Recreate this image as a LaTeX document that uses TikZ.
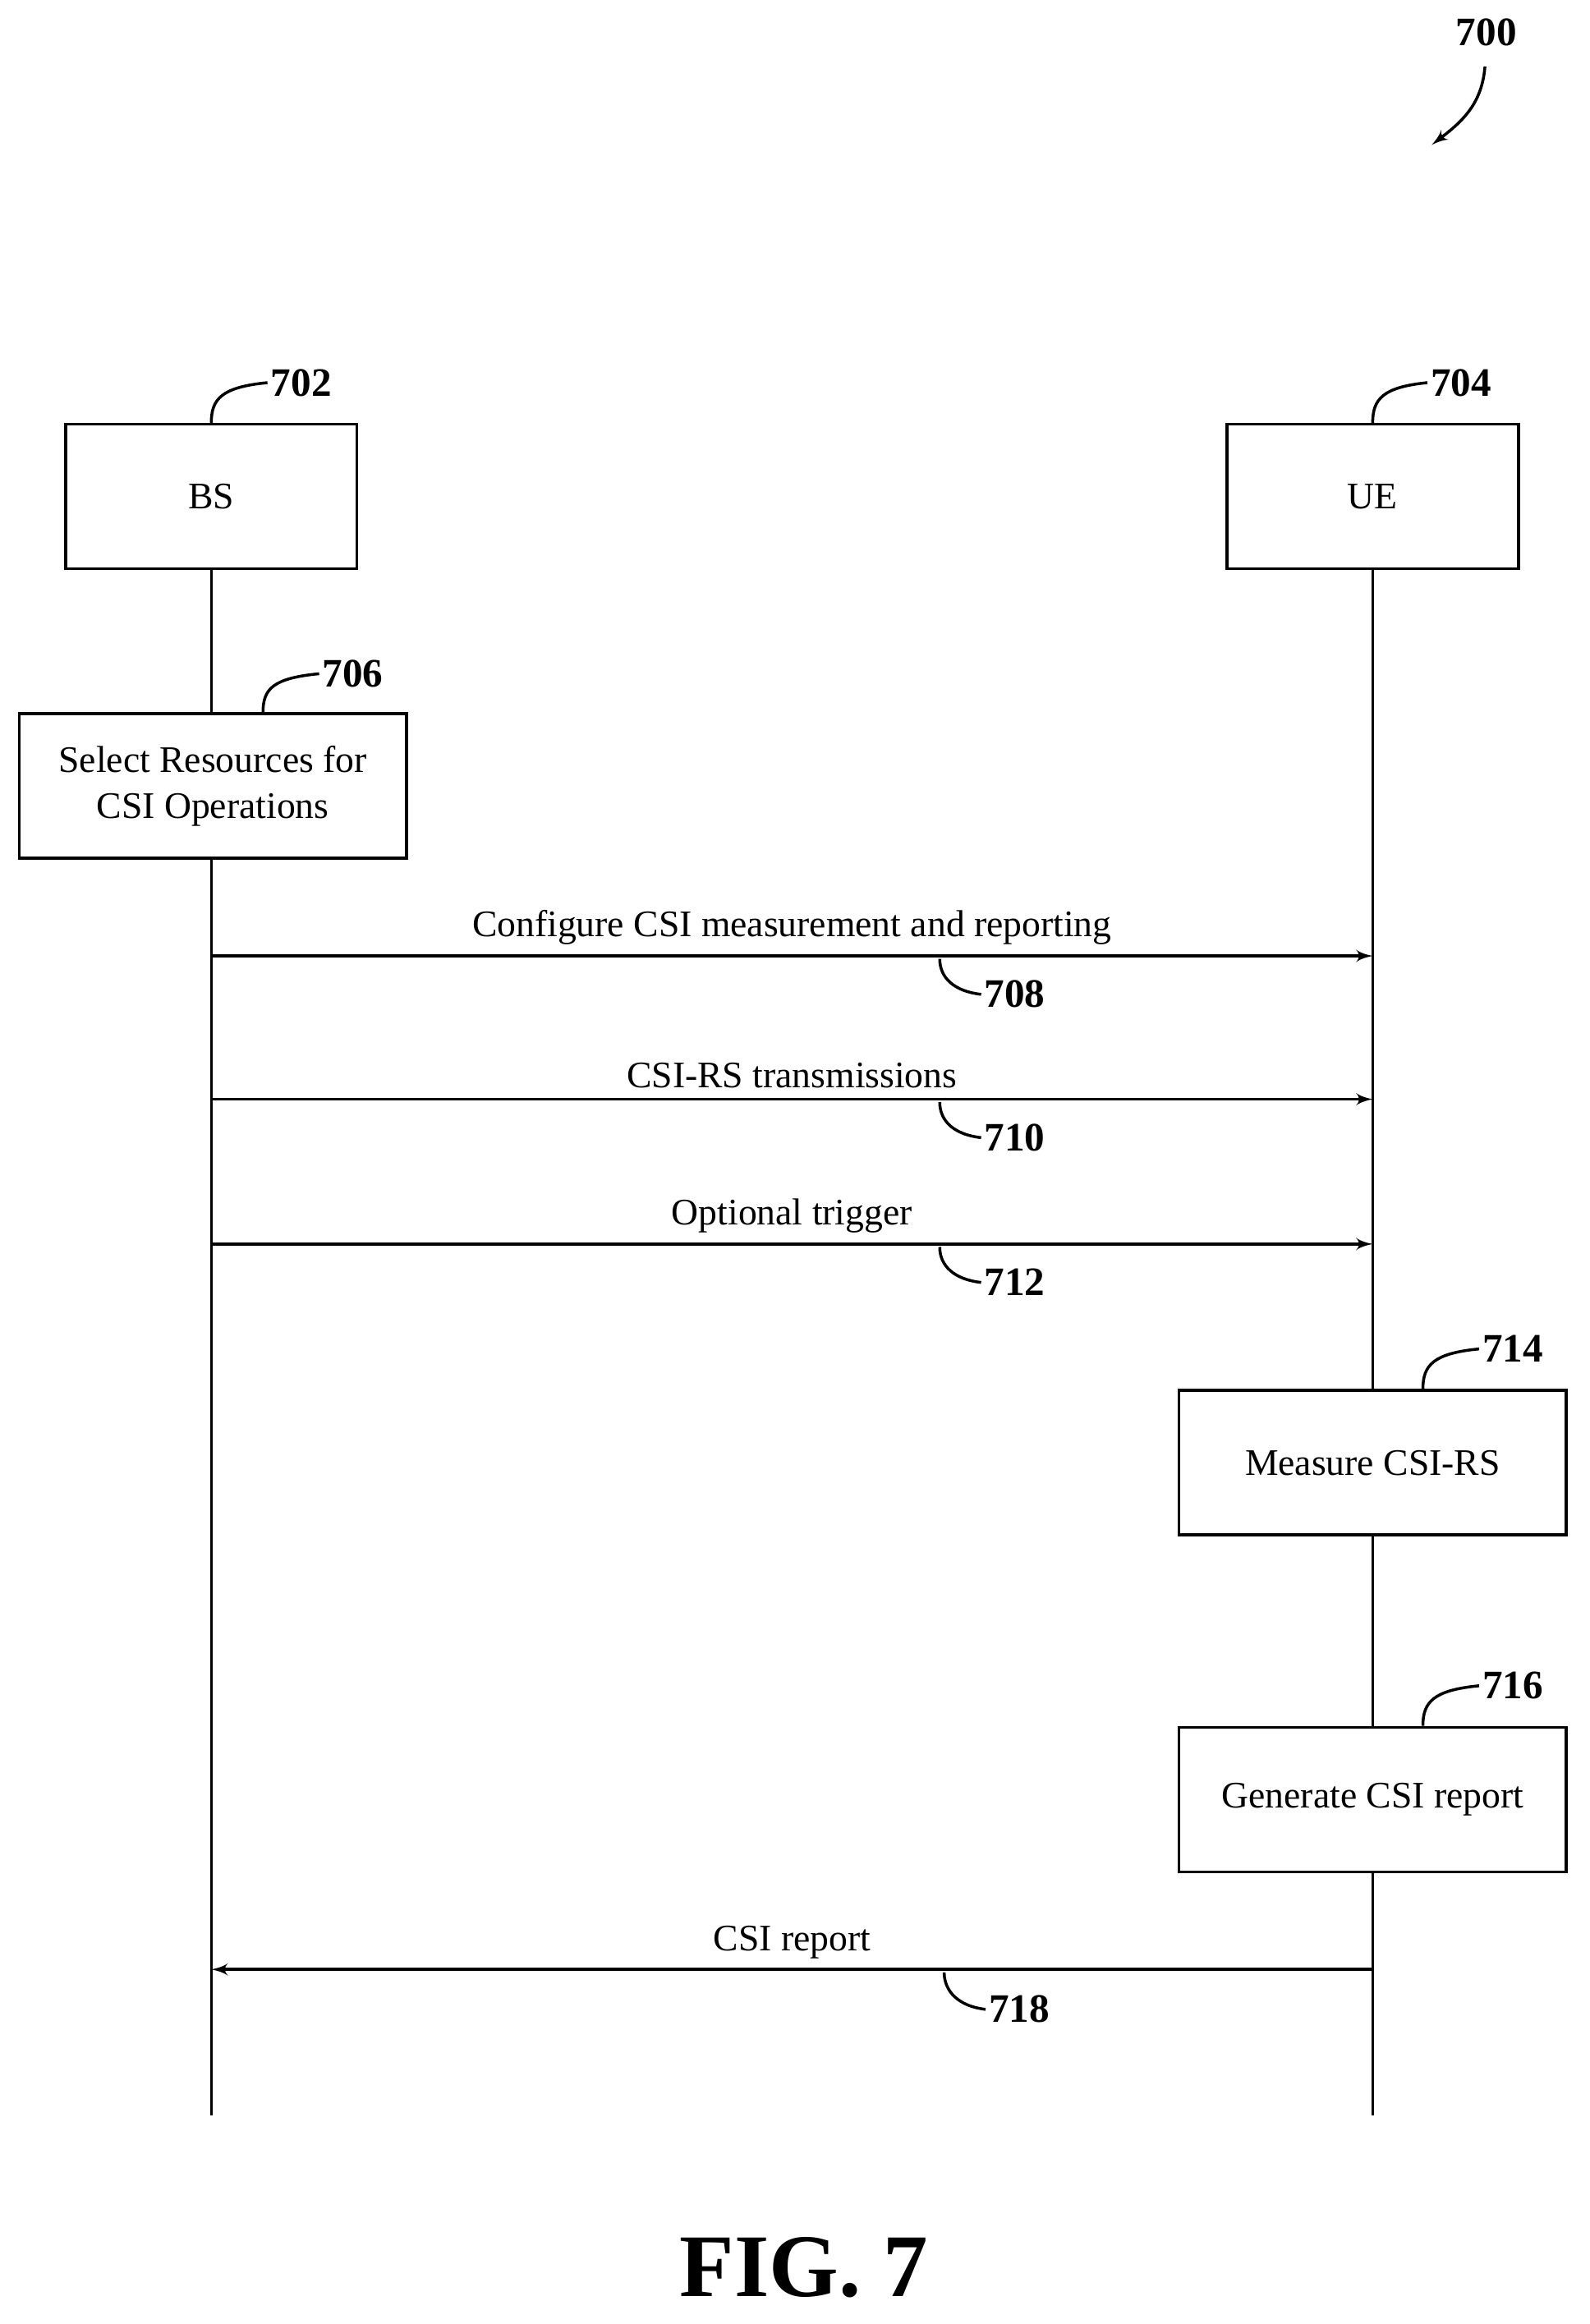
\documentclass[tikz,border=0pt]{standalone}
\usepackage{fontspec}
\setmainfont{Liberation Serif}
\usetikzlibrary{positioning}
\usetikzlibrary{shapes,arrows}
\tikzstyle{block} = [rectangle, draw, line width=1pt, minimum width=3.55cm,
                minimum height=1.76cm, align=center, font=\fontsize{13}{16}\selectfont]
\tikzstyle{line} = [draw, line width=1pt, -latex']
\tikzstyle{msg} = [font=\fontsize{13}{16}\selectfont, above]
\tikzstyle{num} = [font=\bfseries\fontsize{14}{16}\selectfont, right, inner sep=1pt]
\tikzstyle{curl} = [draw, line width=1pt]
\begin{document}
\begin{tikzpicture}[x=0.018cm, y=-0.018cm]
        \useasboundingbox (0,0) rectangle (1076,1573);
        \node[block](bs) at (143,336){BS};
        \node[block](ue) at (929,336){UE};
        \coordinate (bsend) at (143,1432);
        \coordinate (ueend) at (929,1432);
        \draw[line width=1pt] (bs) -- (bsend);
        \draw[line width=1pt] (ue) -- (ueend);
        \node[block, fill=white, minimum width=4.72cm](select) at (144,532){Select Resources for\\CSI Operations};
        \node[block, fill=white, minimum width=4.72cm](measure) at (929,990){Measure CSI-RS};
        \node[block, fill=white, minimum width=4.72cm](generate) at (929,1218){Generate CSI report};
        % messages
        \coordinate (bs1) at (143,647); \coordinate (ue1) at (929,647);
        \coordinate (bs2) at (143,744); \coordinate (ue2) at (929,744);
        \coordinate (bs3) at (143,842); \coordinate (ue3) at (929,842);
        \coordinate (bs4) at (143,1333); \coordinate (ue4) at (929,1333);
        \path[line] (bs1) -- node[msg, pos=0.5]{Configure CSI measurement and reporting} (ue1);
        \path[line] (bs2) -- node[msg, pos=0.5]{CSI-RS transmissions} (ue2);
        \path[line] (bs3) -- node[msg, pos=0.5]{Optional trigger} (ue3);
        \path[line] (ue4) -- node[msg, pos=0.5]{CSI report} (bs4);
        % reference numerals
        \node[num](n702) at (181,259){702};
        \node[num](n704) at (966,259){704};
        \node[num](n706) at (216,456){706};
        \node[num](n714) at (1001,913){714};
        \node[num](n716) at (1001,1141){716};
        \node[num](n708) at (664,673){708};
        \node[num](n710) at (664,770){710};
        \node[num](n712) at (664,868){712};
        \node[num](n718) at (667,1360){718};
        \path[curl] (bs.north) .. controls (143,270) and (150,262) .. (n702.west);
        \path[curl] (ue.north) .. controls (929,270) and (936,262) .. (n704.west);
        \path[curl] (select.north -| 178,0) .. controls (178,466) and (185,459) .. (n706.west);
        \path[curl] (measure.north -| 963,0) .. controls (963,924) and (970,916) .. (n714.west);
        \path[curl] (generate.north -| 963,0) .. controls (963,1152) and (970,1144) .. (n716.west);
        \path[curl] (636,649) .. controls (636,662) and (646,671) .. (n708.west);
        \path[curl] (636,746) .. controls (636,759) and (646,768) .. (n710.west);
        \path[curl] (636,844) .. controls (636,857) and (646,866) .. (n712.west);
        \path[curl] (639,1335) .. controls (639,1348) and (649,1358) .. (n718.west);
        % figure number
        \node[num, right=0pt, inner sep=0pt](n700) at (985,22){700};
        \coordinate (tip700) at (969,98);
        \path[line] (1005,45) .. controls (1003,70) and (990,82) .. (tip700);
        \node[font=\bfseries\fontsize{31}{36}\selectfont](fig) at (544,1535){FIG. 7};
\end{tikzpicture}
\end{document}
